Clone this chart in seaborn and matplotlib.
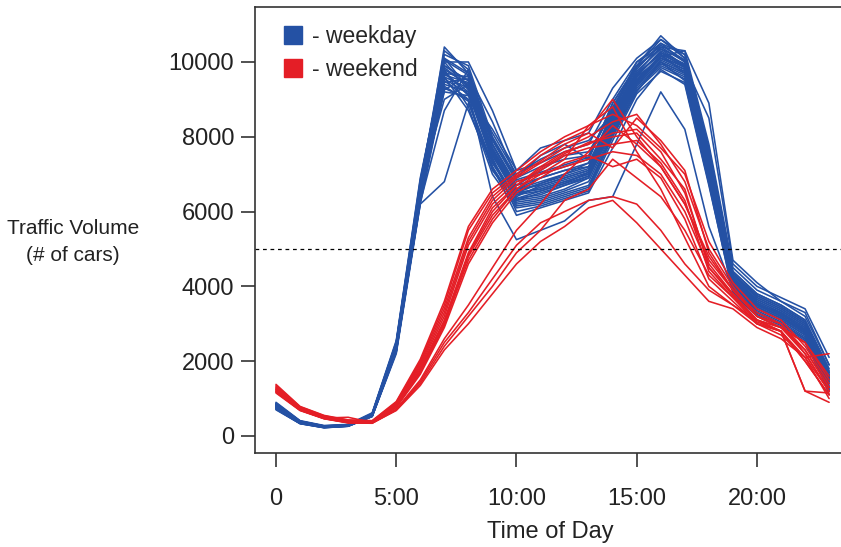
import numpy as np
import pandas as pd
import seaborn as sns
import matplotlib.pyplot as plt
from matplotlib.lines import Line2D

# hourly traffic counts, one row per day
hours = list(range(24))

weekday_days = [
    [820, 380, 250, 280, 560, 2400, 6600, 9900, 9500, 7600, 6500, 6600, 6800, 7000, 8500, 9600, 10300, 9900, 7200, 4200, 3600, 3300, 2900, 1600],
    [760, 350, 230, 270, 540, 2300, 6400, 9600, 9300, 7400, 6300, 6400, 6600, 6900, 8300, 9500, 10100, 9800, 7000, 4000, 3400, 3100, 2700, 1400],
    [880, 400, 270, 300, 600, 2500, 6800, 10100, 9700, 7800, 6700, 6900, 7100, 7200, 8700, 9800, 10500, 10000, 7400, 4300, 3700, 3400, 3000, 1700],
    [700, 330, 220, 260, 520, 2200, 6200, 9300, 9000, 7200, 6200, 6300, 6500, 6700, 8100, 9300, 9900, 9600, 6800, 3900, 3300, 3000, 2600, 1300],
    [850, 370, 240, 290, 580, 2450, 6500, 10200, 9900, 8000, 6900, 7200, 7400, 7500, 8800, 9900, 10600, 10200, 7600, 4400, 3800, 3500, 3100, 1800],
    [780, 360, 245, 275, 550, 2350, 6700, 9000, 9400, 7600, 6600, 6800, 7000, 7300, 8600, 9700, 10200, 9700, 7100, 4100, 3500, 3300, 2800, 1500],
    [740, 340, 235, 265, 530, 2250, 6300, 9800, 8800, 7000, 6100, 6200, 6400, 6600, 8000, 9200, 10000, 9500, 6900, 3950, 3350, 3050, 2650, 1350],
    [900, 410, 280, 310, 620, 2550, 6900, 10000, 10000, 8700, 7100, 7300, 7600, 7800, 9000, 10000, 10400, 10300, 7800, 4500, 3900, 3600, 3200, 1900],
    [810, 375, 255, 285, 570, 2420, 6600, 9400, 9200, 7500, 6400, 6700, 6900, 7100, 8400, 9500, 10200, 9900, 7300, 4200, 3500, 3200, 2800, 1500],
    [720, 335, 225, 262, 525, 2280, 6350, 9700, 9600, 7300, 6350, 6450, 6700, 6950, 8250, 9400, 10000, 9700, 7000, 4050, 3450, 3150, 2750, 1450],
    [860, 395, 265, 295, 590, 2480, 6750, 10300, 9800, 7900, 6800, 7000, 7200, 7400, 8900, 9900, 10700, 10100, 7500, 4350, 3750, 3450, 3050, 1650],
    [790, 365, 248, 278, 555, 2380, 6550, 9200, 9100, 7700, 6550, 6750, 6950, 7150, 8450, 9600, 10100, 9800, 7150, 4150, 3550, 3250, 2850, 1550],
    [770, 355, 240, 272, 545, 2330, 6450, 9500, 9000, 7100, 6250, 6350, 6550, 6800, 8150, 9350, 9950, 9650, 6950, 4000, 3400, 3100, 2700, 1400],
    [830, 385, 258, 288, 575, 2430, 6650, 10100, 9300, 8100, 7000, 7400, 7700, 7900, 8600, 9700, 10400, 10000, 7350, 4250, 3650, 3350, 2950, 1600],
    [750, 345, 232, 268, 535, 2260, 6250, 8700, 9800, 7800, 6600, 6900, 7100, 7300, 8550, 9650, 10250, 9850, 7250, 4150, 3550, 3250, 2850, 1550],
    [800, 370, 250, 280, 560, 2400, 6200, 6800, 8900, 7300, 6300, 6500, 6700, 6900, 8200, 9400, 10000, 9700, 7000, 4100, 3500, 3200, 2800, 1500],
    [760, 350, 235, 270, 540, 2300, 6400, 9700, 9200, 6400, 5250, 5500, 5750, 6300, 6400, 7800, 9200, 8200, 5600, 3900, 3300, 3000, 2600, 1300],
    [840, 390, 262, 292, 585, 2460, 6700, 9900, 9500, 7700, 6600, 6700, 6900, 7100, 8700, 10000, 10500, 10200, 7700, 4400, 3800, 3500, 3100, 1700],
    [730, 338, 228, 264, 528, 2270, 6300, 9550, 9150, 7350, 6350, 6550, 6750, 7050, 8350, 9450, 10050, 9750, 7050, 4050, 3450, 3150, 2750, 1100],
    [870, 398, 268, 298, 595, 2520, 6850, 10050, 9650, 7950, 6850, 7050, 7250, 7450, 8750, 9850, 10450, 10050, 7450, 4300, 3700, 3400, 3000, 1700],
    [805, 372, 252, 282, 565, 2410, 6580, 9650, 9450, 7550, 6450, 6650, 6850, 7050, 8400, 9550, 10150, 9850, 7200, 4150, 3550, 3250, 2850, 1600],
    [715, 330, 222, 260, 522, 2240, 6280, 9350, 8950, 7150, 6150, 6250, 6450, 6650, 8050, 9250, 9850, 9550, 6850, 3900, 3300, 3000, 2600, 1250],
    [780, 360, 245, 275, 550, 2350, 6500, 9800, 9400, 7500, 6500, 6600, 6800, 7000, 8400, 9500, 10100, 9900, 8500, 4600, 4000, 3700, 3400, 2100],
    [825, 382, 256, 286, 572, 2440, 6620, 9850, 9350, 7650, 6500, 6750, 7000, 7200, 8550, 9650, 10250, 9950, 7300, 4250, 3600, 3300, 2900, 1550],
    [790, 362, 246, 276, 552, 2360, 6520, 10400, 9700, 7600, 6450, 6550, 6750, 6950, 8300, 9450, 10150, 10300, 8900, 4700, 4100, 3600, 3300, 1900],
    [845, 388, 260, 290, 580, 2470, 6680, 9450, 9550, 7800, 6700, 7100, 7500, 7600, 8650, 9750, 10350, 10050, 7550, 4300, 3750, 3450, 3050, 1750],
    [810, 368, 250, 282, 562, 2390, 6560, 9750, 9100, 8200, 7100, 7700, 7900, 8100, 9300, 10100, 10600, 10100, 7400, 4200, 3650, 3350, 2950, 1650],
    [765, 352, 238, 270, 542, 2310, 6420, 9250, 9650, 8400, 6900, 7500, 7800, 7400, 8900, 9900, 10350, 9900, 7100, 4100, 3500, 3200, 2750, 1450],
    [855, 392, 263, 294, 588, 2490, 6720, 9600, 8700, 7200, 5900, 6100, 6300, 6500, 7700, 9000, 9800, 9400, 6700, 3850, 3250, 2950, 2550, 1250],
    [795, 366, 249, 279, 558, 2370, 6540, 10000, 9250, 7450, 6000, 6150, 6350, 6550, 7900, 9150, 9750, 9450, 6750, 3800, 3200, 2900, 2500, 1200],
]

weekend_days = [
    [1350, 780, 540, 420, 400, 900, 2000, 3500, 5500, 6500, 7000, 7500, 7900, 8200, 9000, 8000, 7200, 6200, 4800, 3900, 3300, 3000, 2300, 1300],
    [1300, 750, 520, 400, 390, 850, 1900, 3300, 5200, 6300, 6900, 7300, 7700, 8000, 8400, 8600, 7800, 6800, 5000, 4000, 3200, 2900, 2200, 1200],
    [1250, 720, 500, 380, 370, 800, 1800, 3100, 4900, 6100, 6700, 7200, 7600, 7800, 8100, 8200, 7600, 6500, 4600, 3800, 3100, 2900, 2500, 1500],
    [1200, 700, 480, 500, 360, 780, 1700, 3000, 4700, 5800, 6600, 7100, 7500, 7700, 7800, 7900, 7300, 6300, 4400, 3700, 3000, 2800, 2000, 1100],
    [1380, 790, 550, 430, 410, 920, 2050, 3600, 5600, 6600, 7100, 7600, 8000, 8300, 8600, 8300, 7700, 7000, 5200, 4100, 3400, 3100, 2400, 1400],
    [1280, 740, 510, 390, 380, 830, 1850, 3200, 5100, 6200, 6800, 7000, 7200, 7400, 7600, 7500, 7000, 6000, 4500, 3800, 3100, 2800, 1200, 1150],
    [1220, 710, 490, 370, 360, 760, 1650, 2900, 4600, 5700, 6500, 6900, 7300, 7500, 7200, 7400, 6900, 5800, 4200, 3600, 3000, 2700, 2100, 1000],
    [1180, 690, 470, 360, 350, 720, 1500, 2600, 3500, 4500, 5500, 6200, 7000, 7600, 8300, 7800, 7200, 6200, 4700, 3900, 3200, 3000, 2200, 1200],
    [1150, 680, 460, 350, 340, 700, 1400, 2400, 3200, 4000, 4900, 5500, 6300, 6600, 7400, 6900, 6400, 5500, 4300, 3700, 3100, 2900, 2300, 1300],
    [1200, 700, 470, 360, 350, 700, 1450, 2500, 3300, 4200, 5100, 5700, 6000, 6300, 6400, 6200, 5500, 4600, 3900, 3500, 3000, 2800, 2000, 1100],
    [1170, 690, 465, 355, 345, 680, 1350, 2300, 3000, 3800, 4600, 5200, 5600, 6100, 6300, 5700, 5000, 4300, 3600, 3400, 2900, 2600, 2100, 1200],
    [1320, 760, 530, 410, 395, 870, 1950, 3400, 5300, 6400, 6950, 7350, 7800, 8100, 7700, 8500, 7900, 7100, 4900, 3900, 3200, 2900, 2500, 1600],
    [1260, 730, 505, 385, 375, 810, 1750, 3050, 4800, 5900, 6600, 7000, 7400, 8300, 8800, 7600, 6600, 5300, 4000, 3500, 3100, 2800, 1200, 900],
    [1240, 725, 495, 380, 370, 790, 1700, 2950, 4850, 6000, 6700, 7150, 7550, 7850, 8000, 8100, 7400, 6600, 4500, 3750, 3050, 2800, 2100, 2200],
]

tick_pos = [0, 5, 10, 15, 20]
tick_labels = ['0', '5:00', '10:00', '15:00', '20:00']
threshold = 5000

blue = '#2451a4'
red = '#e41e26'

# long form table for seaborn
rows = []
for i, vals in enumerate(weekday_days):
    for h, v in zip(hours, vals):
        rows.append({'day': 'wd%d' % i, 'kind': 'weekday', 'hour': h, 'volume': v})
for i, vals in enumerate(weekend_days):
    for h, v in zip(hours, vals):
        rows.append({'day': 'we%d' % i, 'kind': 'weekend', 'hour': h, 'volume': v})
df = pd.DataFrame(rows)

sns.set_style('ticks')
plt.rcParams['font.family'] = ['Liberation Sans', 'DejaVu Sans']

fig = plt.figure(figsize=(8.41, 5.47), dpi=100)
ax = fig.add_axes([255 / 841, 94 / 547, 590 / 841, 446 / 547])

sns.lineplot(data=df, x='hour', y='volume', hue='kind', units='day',
             estimator=None, hue_order=['weekday', 'weekend'],
             palette={'weekday': blue, 'weekend': red}, linewidth=1.15,
             legend=False, ax=ax)

ax.axhline(threshold, color='black', linestyle=(0, (3, 3)), linewidth=0.9)

ax.set_xlim(-0.873, 23.66)
ax.set_ylim(-455, 11470)
ax.set_xticks(tick_pos)
ax.set_xticklabels(tick_labels)
ax.set_yticks([0, 2000, 4000, 6000, 8000, 10000])

for s in ['left', 'top', 'bottom']:
    ax.spines[s].set_color('#333333')
    ax.spines[s].set_linewidth(1.2)
ax.spines['right'].set_visible(False)

ax.tick_params(axis='both', labelsize=17, length=10, width=1.2,
               color='#333333', labelcolor='#222222')
ax.tick_params(axis='y', pad=5)
ax.tick_params(axis='x', pad=15)

ax.set_xlabel('Time of Day', fontsize=17, color='#222222', labelpad=8)
ax.set_ylabel('')
fig.text(73 / 841, 1 - 242 / 547, 'Traffic Volume\n(# of cars)', fontsize=15,
         color='#222222', ha='center', va='center', linespacing=1.5)

handles = [Line2D([], [], marker='s', linestyle='none', markersize=12.5,
                  markerfacecolor=blue, markeredgecolor=blue),
           Line2D([], [], marker='s', linestyle='none', markersize=12.5,
                  markerfacecolor=red, markeredgecolor=red)]
ax.legend(handles, ['- weekday', '- weekend'], loc='upper left',
          bbox_to_anchor=(0.03, 0.98), frameon=False, fontsize=16.5,
          handletextpad=0.3, labelspacing=0.42, handlelength=1.0,
          borderaxespad=0)

fig.savefig('out.png', dpi=100)
